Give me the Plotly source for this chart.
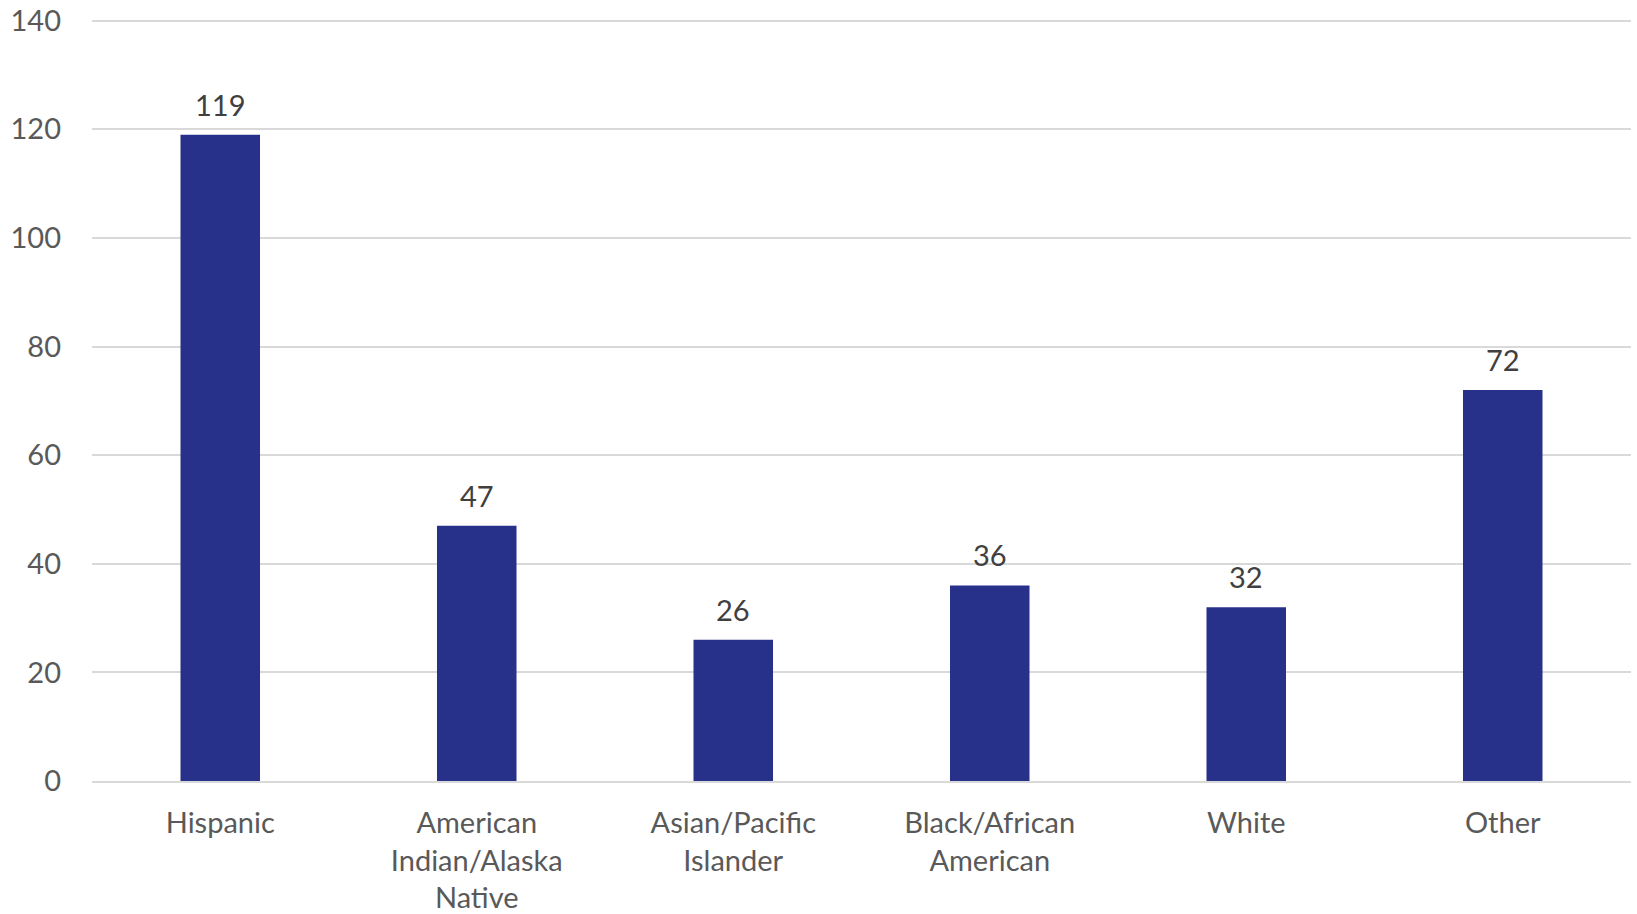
import plotly.graph_objects as go

categories = ["Hispanic", "American Indian/Alaska Native", "Asian/Pacific Islander",
              "Black/African American", "White", "Other"]
tick_labels = ["Hispanic", "American<br>Indian/Alaska<br>Native", "Asian/Pacific<br>Islander",
               "Black/African<br>American", "White", "Other"]
values = [119, 47, 26, 36, 32, 72]
y_ticks = [0, 20, 40, 60, 80, 100, 120, 140]

FONT = "Lato, Open Sans, sans-serif"
FS = 29

fig = go.Figure(go.Bar(
    x=categories, y=values,
    marker=dict(color="#283189", line=dict(width=0)),
    hoverinfo="x+y",
))
for c, v in zip(categories, values):
    fig.add_annotation(x=c, y=v, text=str(v), showarrow=False, yanchor="bottom",
                       yshift=11, font=dict(family=FONT, size=FS, color="#404040"))

fig.update_layout(
    width=1637, height=914,
    margin=dict(l=92, r=6, t=19, b=133),
    paper_bgcolor="white", plot_bgcolor="white",
    bargap=0.69,
    showlegend=False,
    font=dict(family=FONT, size=FS, color="#595959"),
)
fig.update_xaxes(
    tickmode="array", tickvals=categories, ticktext=tick_labels,
    showgrid=False, showline=True, linecolor="#d9d9d9", linewidth=2,
    ticks="", tickfont=dict(size=FS, color="#595959"),
    ticklabelstandoff=15, automargin=False, ticklabeloverflow="allow",
)
fig.update_yaxes(
    range=[0, 140.3], tickvals=y_ticks, showgrid=True, gridcolor="#d9d9d9", gridwidth=2,
    zeroline=False, showline=False, ticks="",
    tickfont=dict(size=FS, color="#595959"), ticklabelstandoff=30, automargin=False,
    ticklabeloverflow="allow",
)
fig.write_html("out.html", config={"displayModeBar": False},
               post_script="document.body.style.margin='0';")
